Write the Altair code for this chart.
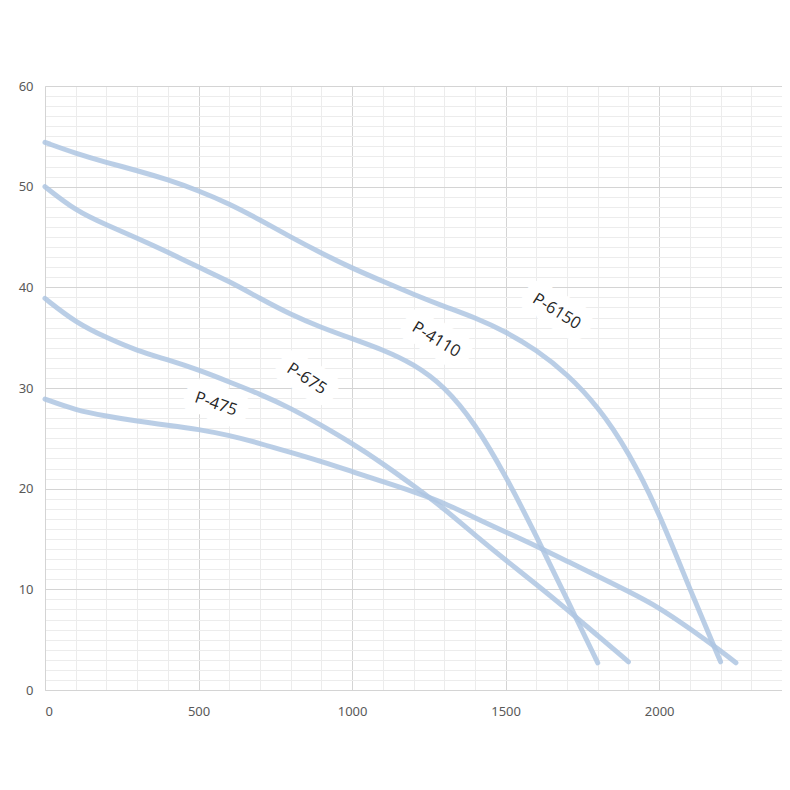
import altair as alt
import pandas as pd

# Pump curves: flow (x) and head (y)
flow_475 = [0, 100, 200, 300, 400, 500, 600, 700, 800, 900, 1000, 1100, 1200,
            1300, 1400, 1500, 1600, 1700, 1800, 1900, 2000, 2100, 2200, 2250]
head_475 = [28.9, 27.8, 27.2, 26.7, 26.3, 25.9, 25.3, 24.5, 23.6, 22.7, 21.7, 20.7,
            19.7, 18.6, 17.1, 15.7, 14.3, 12.8, 11.3, 9.8, 8.2, 6.1, 3.9, 2.7]

flow_675 = [0, 100, 200, 300, 400, 500, 600, 700, 800, 900, 1000, 1100, 1200,
            1300, 1400, 1500, 1600, 1700, 1800, 1900]
head_675 = [38.9, 36.5, 35.0, 33.7, 32.8, 31.8, 30.6, 29.4, 28.0, 26.3, 24.5, 22.5,
            20.3, 18.0, 15.4, 12.9, 10.5, 8.0, 5.4, 2.8]

flow_4110 = [0, 100, 200, 300, 400, 500, 600, 700, 800, 900, 1000, 1100, 1200,
             1300, 1400, 1500, 1600, 1700, 1800]
head_4110 = [50.0, 47.6, 46.2, 44.9, 43.5, 42.0, 40.6, 38.9, 37.3, 36.0, 34.9, 33.8,
             32.4, 30.2, 26.5, 21.3, 15.3, 9.0, 2.7]

flow_6150 = [0, 100, 200, 300, 400, 500, 600, 700, 800, 900, 1000, 1100, 1200,
             1300, 1400, 1500, 1600, 1700, 1800, 1900, 2000, 2100, 2200]
head_6150 = [54.4, 53.3, 52.4, 51.6, 50.7, 49.6, 48.3, 46.7, 45.0, 43.4, 41.9, 40.6,
             39.3, 38.1, 37.0, 35.6, 33.8, 31.4, 28.2, 23.7, 17.6, 10.0, 2.8]

series_names = ["P-475", "P-675", "P-4110", "P-6150"]
label_flow = [557, 852, 1274, 1666]
label_head = [28.4, 30.9, 34.8, 37.6]
label_angle = [19, 33, 31, 32]

x_major = [0, 500, 1000, 1500, 2000]
y_major = [0, 10, 20, 30, 40, 50, 60]
x_minor = [v for v in range(0, 2401, 100) if v not in x_major]
y_minor = [v for v in range(0, 61) if v not in y_major]

rows = []
for name, xs, ys in zip(series_names,
                        [flow_475, flow_675, flow_4110, flow_6150],
                        [head_475, head_675, head_4110, head_6150]):
    for x, y in zip(xs, ys):
        rows.append({"series": name, "flow": x, "head": y})
df = pd.DataFrame(rows)

labels_df = pd.DataFrame({"series": series_names, "flow": label_flow,
                          "head": label_head, "angle": label_angle})

x_scale = alt.Scale(domain=[0, 2400], nice=False, zero=True)
y_scale = alt.Scale(domain=[0, 60], nice=False, zero=True)

minor = alt.Chart(df).mark_line(opacity=0).encode(
    x=alt.X("flow:Q", scale=x_scale,
            axis=alt.Axis(values=x_minor, labels=False, ticks=False, domain=False,
                          grid=True, gridColor="#ececec", gridWidth=1, title=None, orient="top")),
    y=alt.Y("head:Q", scale=y_scale,
            axis=alt.Axis(values=y_minor, labels=False, ticks=False, domain=False,
                          grid=True, gridColor="#ececec", gridWidth=1, title=None, orient="right")),
    detail="series:N",
)

lines = alt.Chart(df).mark_line(
    interpolate="basis", color="#aec6e2", strokeWidth=5, opacity=0.85, strokeCap="round"
).encode(
    x=alt.X("flow:Q", scale=x_scale,
            axis=alt.Axis(values=x_major, format="d", grid=True, gridColor="#d4d4d4", ticks=False,
                          domain=True, domainColor="#d4d4d4", labelColor="#595959",
                          labelFontSize=13, labelFont="Noto Sans", labelPadding=15,
                          title=None, orient="bottom")),
    y=alt.Y("head:Q", scale=y_scale,
            axis=alt.Axis(values=y_major, format="d", grid=True, gridColor="#d4d4d4", ticks=False,
                          domain=True, domainColor="#d4d4d4", labelColor="#595959",
                          labelFontSize=13, labelFont="Noto Sans", labelPadding=12,
                          title=None, orient="left")),
    detail="series:N",
    order="flow:Q",
)

layers = [minor, lines]
for name, ang in zip(series_names, label_angle):
    sub = labels_df[labels_df["series"] == name]
    bg = alt.Chart(sub).mark_text(
        angle=ang, fontSize=16.5, font="Open Sans", fill="white", stroke="white",
        strokeWidth=24, strokeJoin="round"
    ).encode(
        x=alt.X("flow:Q", scale=x_scale, axis=None),
        y=alt.Y("head:Q", scale=y_scale, axis=None),
        text="series:N",
    )
    fg = alt.Chart(sub).mark_text(
        angle=ang, fontSize=16.5, font="Open Sans", color="#262626"
    ).encode(
        x=alt.X("flow:Q", scale=x_scale, axis=None),
        y=alt.Y("head:Q", scale=y_scale, axis=None),
        text="series:N",
    )
    layers += [bg, fg]

chart = alt.layer(*layers).resolve_axis(x="independent", y="independent").properties(
    width=737, height=604,
    padding={"left": 37, "top": 78, "right": 0, "bottom": 50},
    autosize=alt.AutoSizeParams(type="none"),
    background="white",
).configure_view(stroke=None)

chart.save("out.html", embed_options={"renderer": "svg", "actions": False})
